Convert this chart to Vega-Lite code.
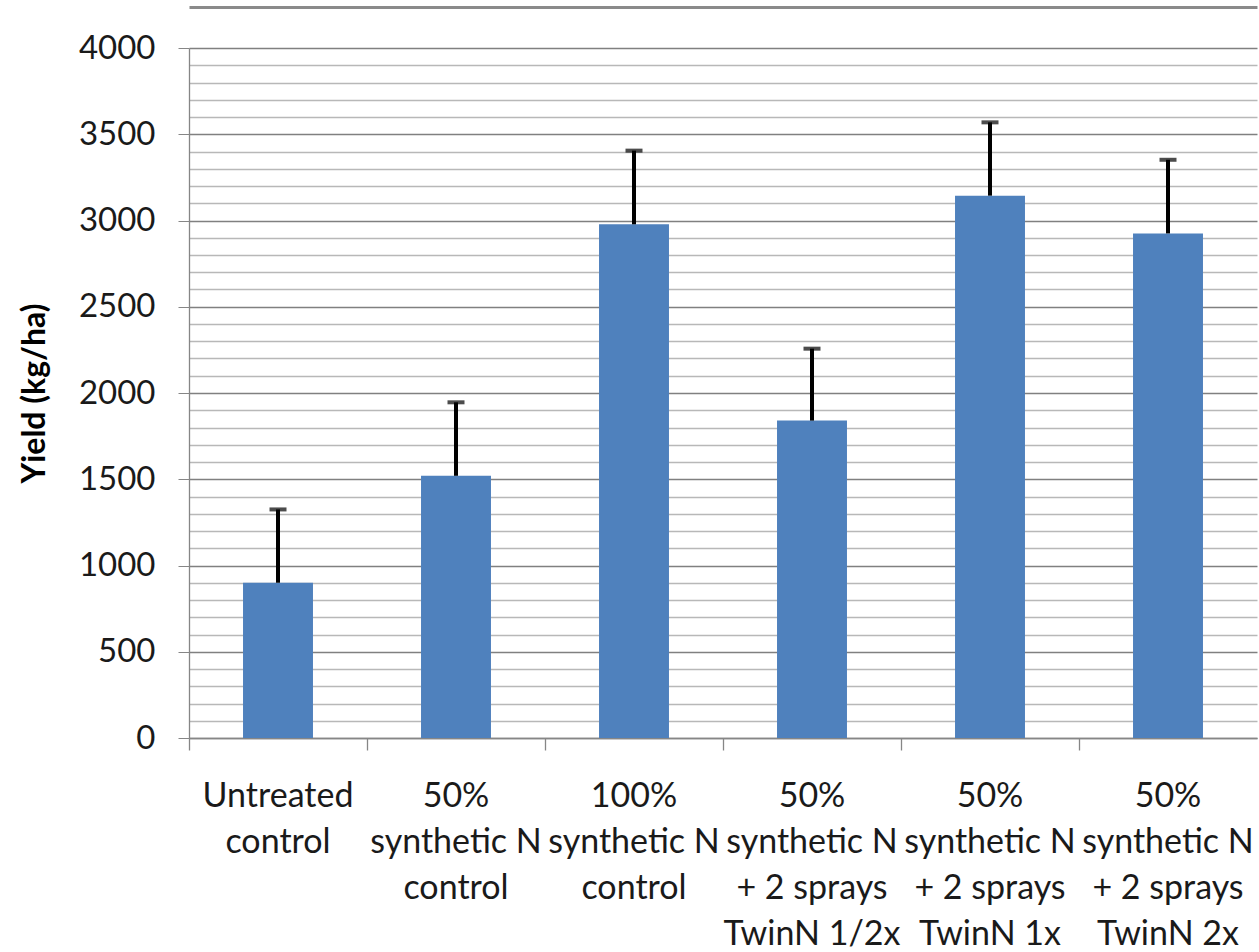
{
  "$schema": "https://vega.github.io/schema/vega-lite/v6.json",
  "autosize": {"type": "none"},
  "padding": {"left": 189, "top": 48, "right": 2, "bottom": 214},
  "width": 1068,
  "height": 690,
  "background": "white",
  "config": {
    "view": {"stroke": null},
    "font": "Lato"
  },
  "data": {
    "values": [
      {"treatment": "Untreated|control", "yield": 900, "upper": 1325},
      {"treatment": "50%|synthetic N|control", "yield": 1520, "upper": 1946},
      {"treatment": "100%|synthetic N|control", "yield": 2978, "upper": 3405},
      {"treatment": "50%|synthetic N|+ 2 sprays|TwinN 1/2x", "yield": 1840, "upper": 2257},
      {"treatment": "50%|synthetic N|+ 2 sprays|TwinN 1x", "yield": 3144, "upper": 3569},
      {"treatment": "50%|synthetic N|+ 2 sprays|TwinN 2x", "yield": 2925, "upper": 3352}
    ]
  },
  "resolve": {"axis": {"x": "independent", "y": "independent"}},
  "layer": [
    {
      "mark": {"type": "bar", "color": "#4F81BD", "width": {"band": 0.393}},
      "encoding": {
        "x": {
          "field": "treatment", "type": "nominal", "sort": null,
          "scale": {"paddingInner": 0, "paddingOuter": 0},
          "axis": {
            "orient": "bottom", "title": null, "labelAngle": 0,
            "labelExpr": "split(datum.label, '|')",
            "labelFont": "Lato", "labelFontSize": 34, "labelColor": "#1a1a1a",
            "labelLineHeight": 46, "labelBaseline": "top", "labelPadding": 41,
            "labelLimit": 300,
            "ticks": false, "domain": true, "domainColor": "#868686", "domainWidth": 1.3,
            "grid": false
          }
        },
        "y": {
          "field": "yield", "type": "quantitative",
          "scale": {"domain": [0, 4000], "nice": false},
          "axis": {
            "orient": "left",
            "title": "Yield (kg/ha)",
            "titleFont": "Lato", "titleFontSize": 32, "titleFontWeight": "bold", "titleColor": "#000000",
            "titlePadding": 27,
            "values": [0,100,200,300,400,500,600,700,800,900,1000,1100,1200,1300,1400,1500,1600,1700,1800,1900,2000,2100,2200,2300,2400,2500,2600,2700,2800,2900,3000,3100,3200,3300,3400,3500,3600,3700,3800,3900,4000],
            "labelExpr": "datum.value % 500 === 0 ? datum.label : ''",
            "format": "d",
            "labelFont": "Lato", "labelFontSize": 33, "labelColor": "#1a1a1a", "labelPadding": 23,
            "tickSize": 11,
            "tickColor": {"condition": {"test": "datum.value % 500 === 0", "value": "#868686"}, "value": "transparent"},
            "domainColor": "#868686", "domainWidth": 1.3,
            "grid": true,
            "gridColor": {"condition": {"test": "datum.value % 500 === 0", "value": "#808080"}, "value": "#b8b8b8"},
            "gridWidth": 1.5
          }
        }
      }
    },
    {
      "mark": {"type": "rule", "color": "#000000", "strokeWidth": 4},
      "encoding": {
        "x": {
          "field": "treatment", "type": "nominal", "sort": null,
          "axis": {
            "orient": "bottom", "title": null, "labels": false, "domain": false, "grid": false,
            "ticks": true, "tickSize": 12, "tickColor": "#868686", "tickWidth": 1.3, "bandPosition": 0
          }
        },
        "y": {"field": "yield", "type": "quantitative",
          "axis": {"orient": "left", "title": null, "labels": false, "ticks": false, "domain": false, "grid": false}},
        "y2": {"field": "upper"}
      }
    },
    {
      "mark": {"type": "tick", "color": "#000000", "thickness": 4, "size": 17},
      "encoding": {
        "x": {"field": "treatment", "type": "nominal", "sort": null,
          "axis": {"orient": "top", "title": null, "labels": false, "ticks": false, "grid": false,
                   "domain": true, "offset": 41, "domainColor": "#8a8a8a", "domainWidth": 3}},
        "y": {"field": "upper", "type": "quantitative",
          "axis": {"orient": "left", "title": null, "labels": false, "ticks": false, "domain": false, "grid": false}}
      }
    }
  ]
}
